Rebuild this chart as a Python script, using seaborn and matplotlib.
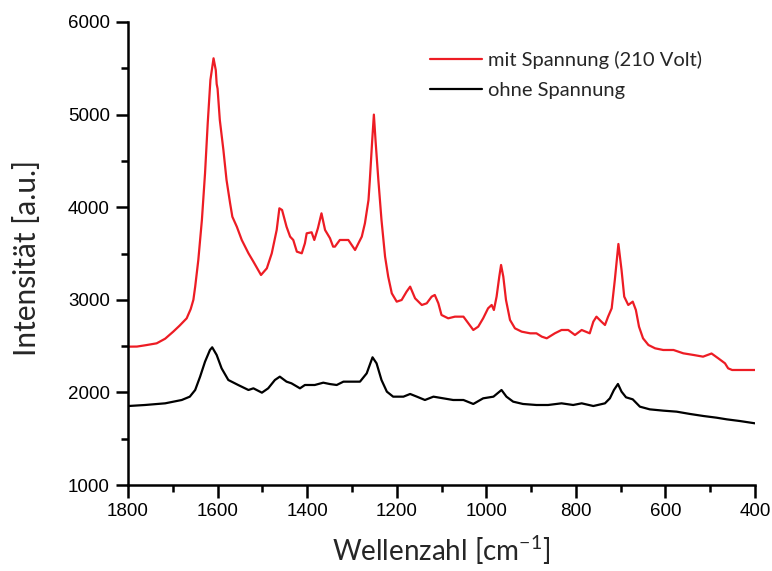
import matplotlib
matplotlib.use("Agg")
import matplotlib.pyplot as plt
from matplotlib.ticker import MultipleLocator
import pandas as pd
import seaborn as sns

# Raman spectra: wavenumber [cm^-1] and intensity [a.u.]
wn_mit = [1800, 1780, 1760, 1736, 1717, 1699, 1685, 1669, 1660, 1654, 1650, 1643,
          1635, 1628, 1622, 1616, 1609, 1604, 1602, 1600, 1595, 1587, 1580, 1572,
          1567, 1557, 1546, 1531, 1520, 1503, 1490, 1479, 1468, 1462, 1456, 1446,
          1438, 1431, 1423, 1412, 1405, 1401, 1390, 1384, 1376, 1368, 1360, 1349,
          1342, 1338, 1327, 1308, 1293, 1278, 1271, 1263, 1260, 1255, 1251, 1247,
          1241, 1234, 1226, 1219, 1211, 1200, 1189, 1178, 1170, 1159, 1144, 1133,
          1122, 1115, 1107, 1100, 1085, 1070, 1051, 1040, 1029, 1018, 1007, 996,
          988, 983, 977, 971, 967, 962, 956, 947, 936, 921, 902, 888, 876, 865,
          847, 832, 817, 802, 787, 769, 761, 754, 743, 735, 728, 720, 713, 705,
          698, 692, 683, 673, 666, 659, 650, 638, 623, 605, 582, 560, 537, 516,
          497, 482, 467, 460, 451, 429, 400]
int_mit = [2494, 2495, 2510, 2530, 2580, 2656, 2720, 2800, 2900, 3000, 3141, 3430,
           3862, 4366, 4906, 5374, 5608, 5480, 5330, 5280, 4942, 4618, 4294, 4042,
           3897, 3789, 3646, 3502, 3412, 3268, 3340, 3502, 3754, 3988, 3970, 3789,
           3682, 3646, 3520, 3502, 3610, 3718, 3729, 3646, 3772, 3934, 3754, 3665,
           3574, 3574, 3646, 3646, 3538, 3682, 3826, 4078, 4294, 4700, 5000, 4700,
           4294, 3862, 3466, 3250, 3070, 2980, 2998, 3088, 3142, 3016, 2944, 2962,
           3034, 3052, 2962, 2836, 2800, 2818, 2818, 2746, 2674, 2710, 2800, 2908,
           2944, 2890, 3034, 3250, 3376, 3250, 2998, 2782, 2692, 2656, 2638, 2638,
           2602, 2584, 2638, 2674, 2674, 2620, 2674, 2638, 2764, 2818, 2764, 2728,
           2818, 2908, 3214, 3603, 3322, 3034, 2944, 2980, 2890, 2710, 2584, 2512,
           2476, 2458, 2458, 2422, 2404, 2386, 2420, 2368, 2314, 2260, 2242, 2242,
           2242]

wn_ohne = [1799, 1762, 1717, 1680, 1662, 1650, 1639, 1628, 1617, 1612, 1602, 1591,
           1576, 1554, 1531, 1520, 1501, 1487, 1472, 1461, 1446, 1435, 1416, 1405,
           1383, 1364, 1349, 1334, 1319, 1282, 1267, 1254, 1245, 1234, 1222, 1208,
           1185, 1170, 1155, 1137, 1118, 1096, 1074, 1051, 1029, 1007, 984, 966,
           955, 940, 918, 888, 862, 832, 806, 787, 761, 735, 724, 715, 706, 698,
           688, 673, 657, 635, 605, 575, 545, 515, 486, 463, 434, 400]
int_ohne = [1853, 1864, 1882, 1918, 1954, 2026, 2170, 2332, 2458, 2487, 2404, 2260,
            2134, 2080, 2026, 2044, 1997, 2044, 2134, 2170, 2116, 2098, 2044, 2080,
            2080, 2105, 2090, 2080, 2116, 2116, 2206, 2379, 2314, 2134, 2008, 1954,
            1954, 1983, 1954, 1918, 1954, 1936, 1918, 1918, 1875, 1936, 1954, 2026,
            1954, 1900, 1875, 1864, 1864, 1882, 1864, 1882, 1853, 1882, 1936, 2026,
            2091, 2008, 1947, 1925, 1846, 1817, 1803, 1792, 1767, 1745, 1727, 1709,
            1691, 1666]

labels = ["mit Spannung (210 Volt)", "ohne Spannung"]
colors = ["#ED1C24", "#000000"]
x_ticks = [1800, 1600, 1400, 1200, 1000, 800, 600, 400]
y_ticks = [1000, 2000, 3000, 4000, 5000, 6000]

df = pd.concat([
    pd.DataFrame({"Wellenzahl": wn_mit, "Intensität": int_mit, "Messung": labels[0]}),
    pd.DataFrame({"Wellenzahl": wn_ohne, "Intensität": int_ohne, "Messung": labels[1]}),
], ignore_index=True)

sns.set_style("ticks")
plt.rcParams["font.family"] = ["Liberation Sans", "DejaVu Sans"]
plt.rcParams["mathtext.default"] = "regular"

fig = plt.figure(figsize=(7.72, 5.71), dpi=100)
ax = fig.add_axes([128 / 772, 1 - 485 / 571, (755 - 128) / 772, (485 - 22) / 571])

sns.lineplot(data=df, x="Wellenzahl", y="Intensität", hue="Messung",
             palette=dict(zip(labels, colors)), linewidth=1.6, ax=ax,
             estimator=None, sort=True)

ax.set_xlim(1800, 400)
ax.set_ylim(1000, 6000)
ax.set_xticks(x_ticks)
ax.set_yticks(y_ticks)
ax.xaxis.set_minor_locator(MultipleLocator(100))
ax.yaxis.set_minor_locator(MultipleLocator(500))

sns.despine(ax=ax)
for side in ("left", "bottom"):
    ax.spines[side].set_linewidth(1.8)
    ax.spines[side].set_color("black")
ax.tick_params(which="major", direction="out", length=9, width=1.8,
               labelsize=13.5, pad=4, colors="black")
ax.tick_params(which="minor", direction="out", length=5, width=1.8, colors="black")

label_font = ["Lato", "DejaVu Sans"]
ax.set_xlabel("Wellenzahl [cm$^{-1}$]", fontsize=20, family=label_font, labelpad=10)
ax.set_ylabel("Intensität [a.u.]", fontsize=21.5, family=label_font, va="center")
ax.yaxis.set_label_coords(-(128 - 27) / 627, 0.5 - 4 / 463)

leg = ax.legend(loc="upper left", bbox_to_anchor=(0.452, 0.977), frameon=False,
                handlelength=2.6, handletextpad=0.3, labelspacing=0.65,
                prop={"family": label_font, "size": 14.5})

fig.savefig("out.png", dpi=100)
